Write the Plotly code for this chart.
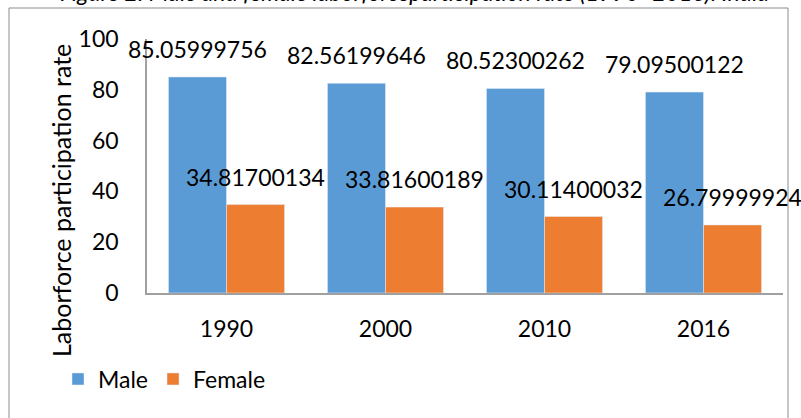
import plotly.graph_objects as go

# Labour-force participation rate by sex, India
years = ["1990", "2000", "2010", "2016"]
male = [85.05999756, 82.56199646, 80.52300262, 79.09500122]
female = [34.81700134, 33.81600189, 30.11400032, 26.79999924]
y_ticks = [0, 20, 40, 60, 80, 100]

FONT = "Lato, 'Open Sans', sans-serif"
BLUE = "#5B9BD5"
ORANGE = "#ED7D31"
AXIS = "#A0A0A0"

W, H = 801, 418
L, R, T, B = 147, 18, 39, 125
PW, PH = W - L - R, H - T - B


def px_x(px):
    return (px - L) / PW


def px_y(py):
    return (H - B - py) / PH


fig = go.Figure()
fig.add_trace(go.Bar(name="Male", x=years, y=male, marker_color=BLUE))
fig.add_trace(go.Bar(name="Female", x=years, y=female, marker_color=ORANGE))

# value labels above each bar (category index on the x axis)
annotations = []
for series, shift in ((male, -29), (female, 29)):
    for i, v in enumerate(series):
        annotations.append(dict(
            x=i, y=v, xref="x", yref="y", text=f"{v:.8f}",
            showarrow=False, xshift=shift, yshift=28, yanchor="middle",
            font=dict(family=FONT, size=23, color="#000000"),
        ))

# y-axis title
annotations.append(dict(
    x=px_x(61), y=px_y(201), xref="paper", yref="paper",
    text="Laborforce participation rate", textangle=-90, showarrow=False,
    xanchor="center", yanchor="middle",
    font=dict(family=FONT, size=25, color="#000000"),
))

# figure caption
annotations.append(dict(
    x=px_x(771), y=px_y(8.5), xref="paper", yref="paper",
    text="<i>Figure 2: Male and female laborforceparticipation rate (1990 -2016): India</i>",
    showarrow=False, xanchor="right", yanchor="bottom",
    font=dict(family=FONT, size=23, color="#000000"),
))

fig.update_layout(
    width=W, height=H,
    margin=dict(l=L, r=R, t=T, b=B),
    paper_bgcolor="white", plot_bgcolor="white",
    barmode="group", bargap=0.27, bargroupgap=0,
    annotations=annotations,
    shapes=[dict(
        type="rect", xref="paper", yref="paper",
        x0=px_x(9), x1=px_x(788), y0=px_y(440), y1=px_y(8),
        line=dict(color="#8C8C8C", width=1), fillcolor="rgba(0,0,0,0)",
        layer="below",
    )],
    legend=dict(
        orientation="h", x=px_x(58), y=px_y(379), xanchor="left", yanchor="middle",
        font=dict(family=FONT, size=23, color="#000000"),
        bgcolor="rgba(0,0,0,0)", itemclick=False,
    ),
    showlegend=True,
)
fig.update_xaxes(
    type="category", range=[-0.5, 3.5], showline=True, linecolor=AXIS,
    linewidth=1.5, showgrid=False, ticks="", ticklabelstandoff=15,
    tickfont=dict(family=FONT, size=23, color="#000000"),
)
fig.update_yaxes(
    range=[0, 100], tickvals=y_ticks, showline=True, linecolor=AXIS,
    linewidth=1.5, showgrid=False, zeroline=False, ticks="",
    ticklabelstandoff=22,
    tickfont=dict(family=FONT, size=23, color="#000000"),
)

fig.write_html("out.html")
